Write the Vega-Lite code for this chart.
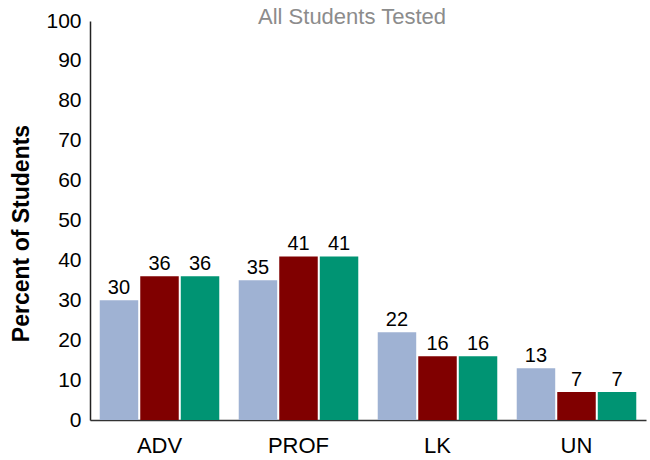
{
  "$schema": "https://vega.github.io/schema/vega-lite/v6.json",
  "width": 556,
  "height": 399,
  "autosize": {"type": "none"},
  "padding": {"left": 90, "top": 21, "right": 4, "bottom": 40},
  "background": "white",
  "config": {"view": {"stroke": null}, "font": "Liberation Sans"},
  "title": {"text": "All Students Tested", "color": "#8c8c8c", "fontSize": 22, "fontWeight": "normal", "font": "Liberation Sans", "baseline": "alphabetic", "offset": -36, "dx": -16, "anchor": "middle"},
  "data": {"values": [
    {"level": "ADV", "group": "A", "pct": 30},
    {"level": "ADV", "group": "B", "pct": 36},
    {"level": "ADV", "group": "C", "pct": 36},
    {"level": "PROF", "group": "A", "pct": 35},
    {"level": "PROF", "group": "B", "pct": 41},
    {"level": "PROF", "group": "C", "pct": 41},
    {"level": "LK", "group": "A", "pct": 22},
    {"level": "LK", "group": "B", "pct": 16},
    {"level": "LK", "group": "C", "pct": 16},
    {"level": "UN", "group": "A", "pct": 13},
    {"level": "UN", "group": "B", "pct": 7},
    {"level": "UN", "group": "C", "pct": 7}
  ]},
  "encoding": {
    "x": {"field": "level", "type": "nominal", "sort": ["ADV", "PROF", "LK", "UN"],
      "scale": {"paddingInner": 0.14, "paddingOuter": 0.07},
      "axis": {"title": null, "labelAngle": 0, "ticks": false, "labelFontSize": 22, "labelColor": "#000", "labelPadding": 15, "domainColor": "#333", "domainWidth": 1.5, "labelFont": "Liberation Sans"}},
    "xOffset": {"field": "group", "type": "nominal", "scale": {"paddingInner": 0.05}},
    "y": {"field": "pct", "type": "quantitative", "scale": {"domain": [0, 100]},
      "axis": {"title": "Percent of Students", "titleFontSize": 23, "titleFontWeight": "bold", "titleColor": "#000", "titleFont": "Liberation Sans", "titlePadding": 12, "titleY": 212, "values": [0,10,20,30,40,50,60,70,80,90,100], "grid": false, "ticks": false, "labelFontSize": 21, "labelColor": "#000", "labelPadding": 9, "domainColor": "#222", "domainWidth": 1.5, "labelFont": "Liberation Sans"}}
  },
  "layer": [
    {"mark": {"type": "bar"},
      "encoding": {"color": {"field": "group", "type": "nominal", "legend": null,
        "scale": {"domain": ["A", "B", "C"], "range": ["#9fb2d3", "#800000", "#009473"]}}}},
    {"mark": {"type": "text", "baseline": "alphabetic", "dy": -6, "fontSize": 20, "color": "#000", "font": "Liberation Sans"},
      "encoding": {"text": {"field": "pct", "type": "quantitative"}}}
  ]
}
